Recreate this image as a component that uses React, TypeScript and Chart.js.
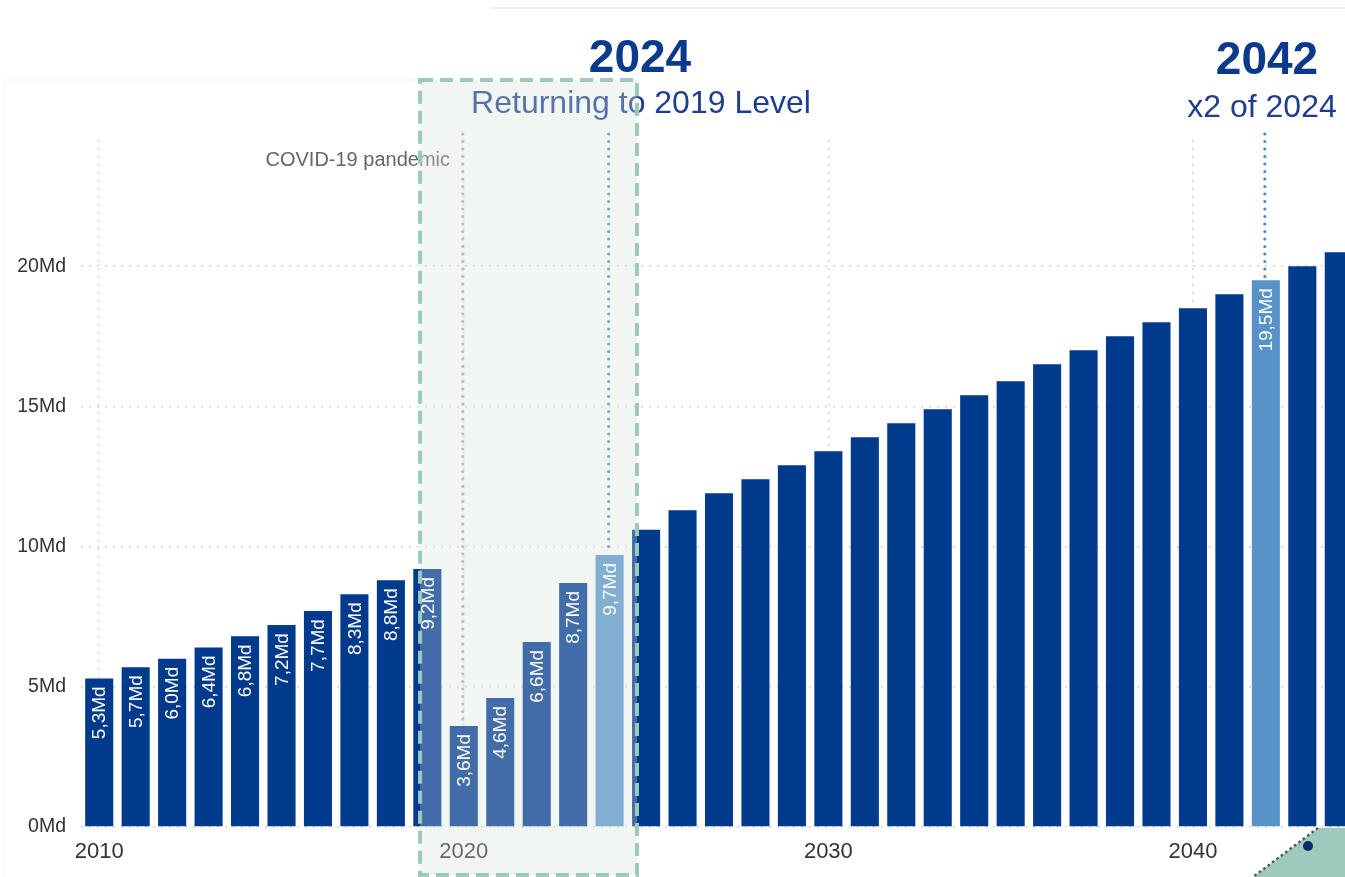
import React, { useEffect, useRef } from 'react';
import { Chart, registerables } from 'chart.js';

Chart.register(...registerables);

// ---------- data ----------
const years = [
  '2010', '2011', '2012', '2013', '2014', '2015', '2016', '2017', '2018', '2019',
  '2020', '2021', '2022', '2023', '2024', '2025', '2026', '2027', '2028', '2029',
  '2030', '2031', '2032', '2033', '2034', '2035', '2036', '2037', '2038', '2039',
  '2040', '2041', '2042', '2043', '2044',
];
const passengersMd = [
  5.3, 5.7, 6.0, 6.4, 6.8, 7.2, 7.7, 8.3, 8.8, 9.2,
  3.6, 4.6, 6.6, 8.7, 9.7, 10.6, 11.3, 11.9, 12.4, 12.9,
  13.4, 13.9, 14.4, 14.9, 15.4, 15.9, 16.5, 17.0, 17.5, 18.0,
  18.5, 19.0, 19.5, 20.0, 20.5,
];
const labelledYears = [
  '2010', '2011', '2012', '2013', '2014', '2015', '2016', '2017', '2018', '2019',
  '2020', '2021', '2022', '2023', '2024', '2042',
];
const highlightYears = ['2024', '2042'];
const axisYears = ['2010', '2020', '2030', '2040'];
const yTickValues = [0, 5, 10, 15, 20];
const yMax = 24.5;

// ---------- styles ----------
const NAVY = '#003A8C';
const HIGHLIGHT = '#5893C8';
const TITLE = '#0B3A8C';
const SUBTITLE = '#1F3F8E';
const FONT = '"Liberation Sans", Arial, Helvetica, sans-serif';

const fmt = (v: number) => v.toFixed(1).replace('.', ',') + 'Md';

const annotations = {
  id: 'annotations',
  beforeDraw(chart: any) {
    const { ctx } = chart;
    const x = chart.scales.x;
    const pitch = x.getPixelForValue(1) - x.getPixelForValue(0);
    const left = x.getPixelForValue(years.indexOf('2019')) - 0.2 * pitch;
    const right = x.getPixelForValue(years.indexOf('2024')) + 0.75 * pitch;
    ctx.save();
    // faint frame lines
    ctx.strokeStyle = '#f1f1f1';
    ctx.lineWidth = 2;
    ctx.beginPath();
    ctx.moveTo(490, 8);
    ctx.lineTo(1358, 8);
    ctx.stroke();
    ctx.strokeStyle = '#f7f7f7';
    ctx.lineWidth = 1.5;
    ctx.beginPath();
    ctx.moveTo(5, 877);
    ctx.lineTo(5, 80);
    ctx.lineTo(left, 80);
    ctx.stroke();
    // box background
    ctx.fillStyle = '#F3F7F4';
    ctx.fillRect(left, 80, right - left, 795);
    ctx.restore();
  },
  afterDatasetsDraw(chart: any) {
    const { ctx } = chart;
    const meta = chart.getDatasetMeta(0);
    ctx.save();
    // value labels inside bars
    ctx.fillStyle = '#ffffff';
    ctx.font = `19px ${FONT}`;
    ctx.textAlign = 'right';
    ctx.textBaseline = 'middle';
    labelledYears.forEach((yr) => {
      const i = years.indexOf(yr);
      const bar = meta.data[i];
      ctx.save();
      ctx.translate(bar.x + 1, bar.y + 8);
      ctx.rotate(-Math.PI / 2);
      ctx.fillText(fmt(passengersMd[i]), 0, 0);
      ctx.restore();
    });
    // dotted reference lines
    const dotted = (yr: string, color: string) => {
      const i = years.indexOf(yr);
      const bar = meta.data[i];
      ctx.save();
      ctx.strokeStyle = color;
      ctx.lineWidth = 3.2;
      ctx.lineCap = 'round';
      ctx.setLineDash([0, 7.5]);
      ctx.beginPath();
      ctx.moveTo(bar.x - 1, 134);
      ctx.lineTo(bar.x - 1, bar.y - 3);
      ctx.stroke();
      ctx.restore();
    };
    dotted('2020', '#a4a4a4');
    dotted('2024', '#4A88C8');
    dotted('2042', '#4A88C8');
    ctx.restore();
  },
  afterDraw(chart: any) {
    const { ctx } = chart;
    const x = chart.scales.x;
    const pitch = x.getPixelForValue(1) - x.getPixelForValue(0);
    const left = x.getPixelForValue(years.indexOf('2019')) - 0.2 * pitch;
    const right = x.getPixelForValue(years.indexOf('2024')) + 0.75 * pitch;
    ctx.save();
    // header texts
    ctx.textBaseline = 'alphabetic';
    ctx.textAlign = 'center';
    ctx.fillStyle = TITLE;
    ctx.font = `bold 46px ${FONT}`;
    ctx.fillText('2024', 640, 72);
    ctx.fillText('2042', 1267, 74);
    ctx.fillStyle = SUBTITLE;
    ctx.font = `32px ${FONT}`;
    ctx.fillText('Returning to 2019 Level', 641, 113);
    ctx.fillText('x2 of 2024', 1262, 117);
    ctx.fillStyle = '#666666';
    ctx.font = `20px ${FONT}`;
    ctx.textAlign = 'right';
    ctx.fillText('COVID-19 pandemic', 450, 166);

    // translucent highlight overlay
    ctx.fillStyle = 'rgba(241,245,242,0.28)';
    ctx.fillRect(left, 80, right - left, 795);
    // dashed frame
    ctx.strokeStyle = '#9DC9BB';
    ctx.lineWidth = 4;
    ctx.setLineDash([13, 7]);
    ctx.strokeRect(left, 80, right - left, 795);
    ctx.setLineDash([]);

    // bottom-right decoration
    ctx.fillStyle = '#9FC9BC';
    ctx.beginPath();
    ctx.moveTo(1318, 828);
    ctx.lineTo(1360, 828);
    ctx.lineTo(1360, 877);
    ctx.lineTo(1253, 877);
    ctx.closePath();
    ctx.fill();
    ctx.strokeStyle = '#555555';
    ctx.lineWidth = 2.5;
    ctx.setLineDash([2.5, 3]);
    ctx.beginPath();
    ctx.moveTo(1318, 828);
    ctx.lineTo(1253, 877);
    ctx.stroke();
    ctx.setLineDash([]);
    ctx.fillStyle = '#0A2A6E';
    ctx.beginPath();
    ctx.arc(1308, 846, 5, 0, Math.PI * 2);
    ctx.fill();
    ctx.restore();
  },
};

export default function App() {
  const canvasRef = useRef<HTMLCanvasElement | null>(null);

  useEffect(() => {
    const canvas = canvasRef.current;
    if (!canvas) return;
    const chart = new Chart(canvas, {
      type: 'bar',
      data: {
        labels: years,
        datasets: [
          {
            data: passengersMd,
            backgroundColor: years.map((y) => (highlightYears.includes(y) ? HIGHLIGHT : NAVY)),
            borderWidth: 0,
            categoryPercentage: 1,
            barPercentage: 0.77,
          },
        ],
      },
      options: {
        responsive: false,
        animation: false,
        devicePixelRatio: 1,
        layout: { padding: { top: 140, right: 1, left: 0, bottom: 0 } },
        plugins: {
          legend: { display: false },
          tooltip: { enabled: false },
        },
        scales: {
          x: {
            type: 'category',
            offset: true,
            afterFit: (scale: any) => {
              scale.height = 50;
            },
            grid: {
              offset: false,
              drawTicks: false,
              lineWidth: 1.5,
              color: (c: any) => (axisYears.includes(years[c.index]) ? '#d6d6d6' : 'rgba(0,0,0,0)'),
            },
            border: { display: false, dash: [2, 6] },
            ticks: {
              autoSkip: false,
              maxRotation: 0,
              padding: 12,
              color: '#333333',
              font: { family: FONT, size: 22 },
              callback: (_v: any, idx: number) => (axisYears.includes(years[idx]) ? years[idx] : ''),
            },
          },
          y: {
            min: 0,
            max: yMax,
            afterFit: (scale: any) => {
              scale.width = 81;
            },
            grid: {
              drawTicks: false,
              lineWidth: 1.5,
              color: (c: any) => (c.tick && yTickValues.includes(c.tick.value) ? '#d2d2d2' : 'rgba(0,0,0,0)'),
            },
            border: { display: false, dash: [2, 6] },
            ticks: {
              stepSize: 5,
              includeBounds: false,
              padding: 15,
              color: '#333333',
              font: { family: FONT, size: 19.5 },
              callback: (v: any) => (yTickValues.includes(Number(v)) ? `${v}Md` : ''),
            },
          },
        },
      },
      plugins: [annotations],
    });
    return () => chart.destroy();
  }, []);

  return (
    <div
      style={{
        position: 'fixed',
        left: 0,
        top: 0,
        width: 1345,
        height: 877,
        overflow: 'hidden',
        background: '#ffffff',
      }}
    >
      <canvas
        ref={canvasRef}
        width={1358}
        height={877}
        style={{ position: 'absolute', left: 0, top: 0, width: 1358, height: 877 }}
      />
    </div>
  );
}
